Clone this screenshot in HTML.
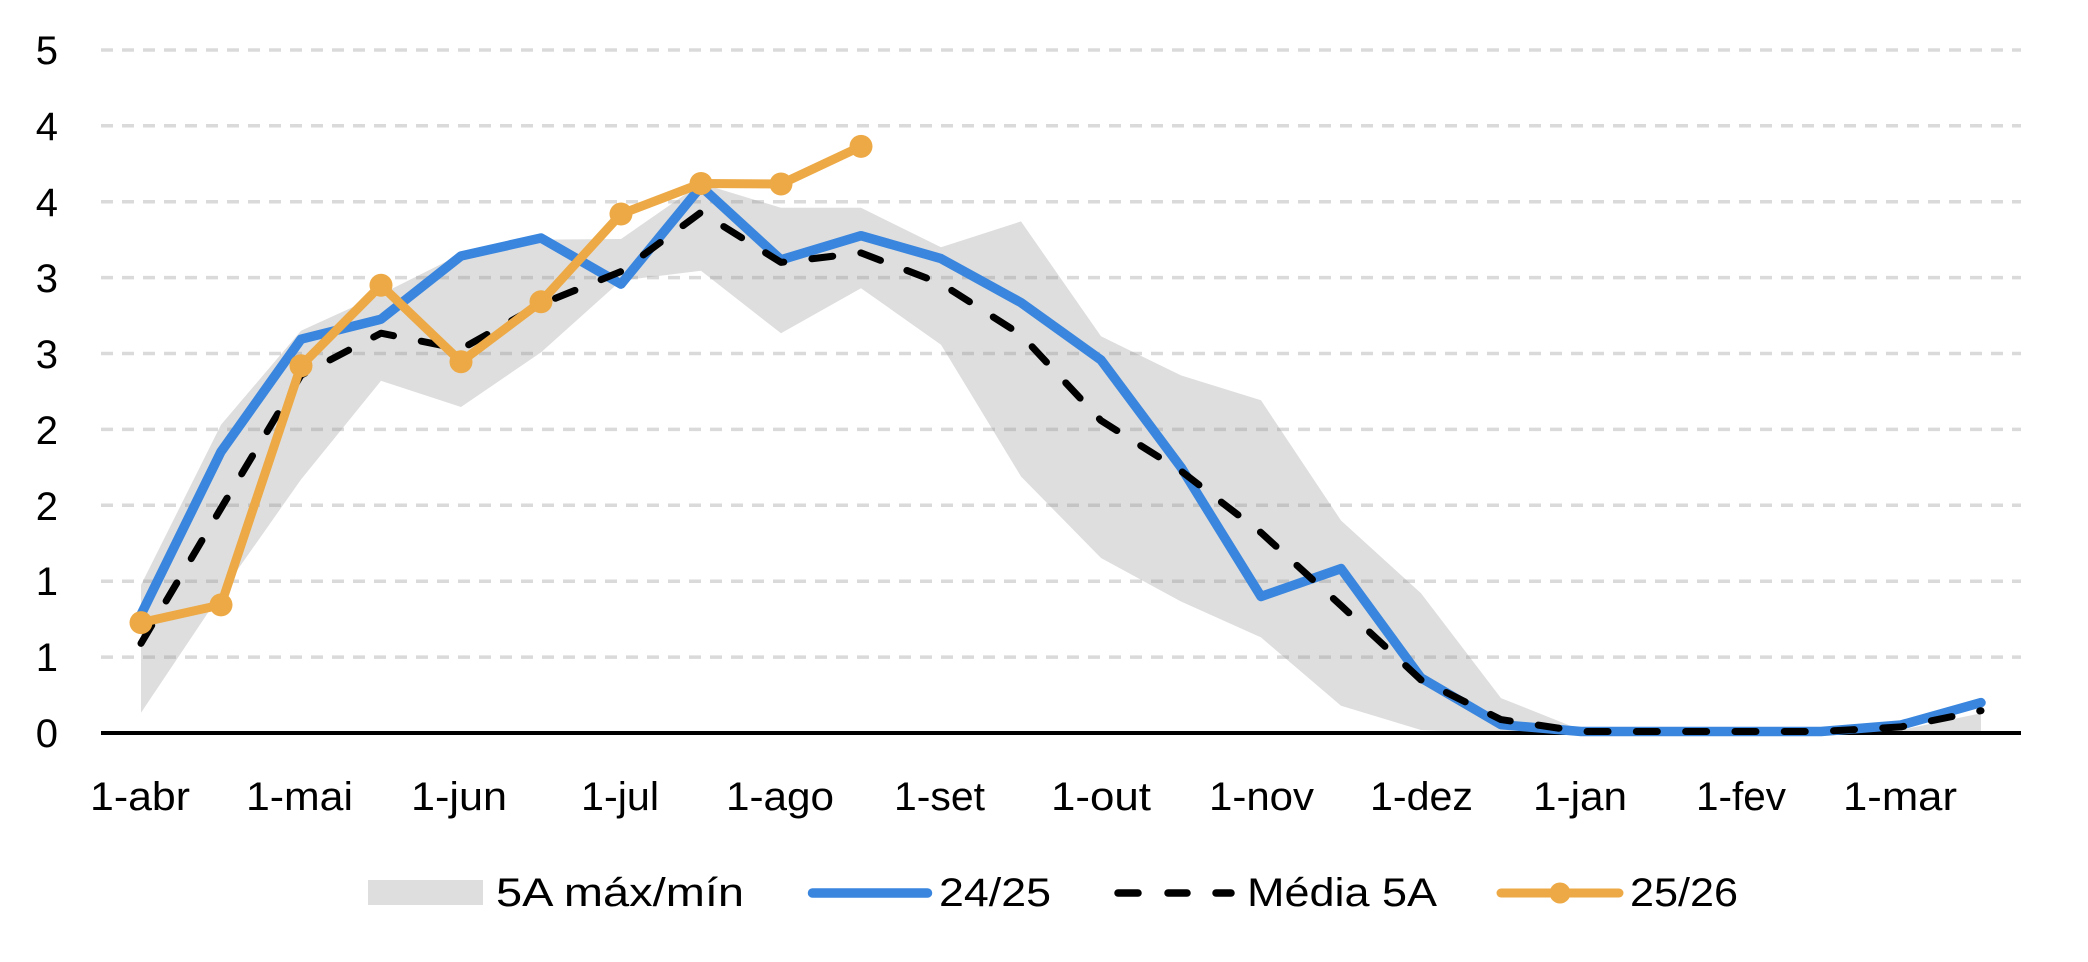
<!DOCTYPE html>
<html>
<head>
<meta charset="utf-8">
<style>
  html,body{margin:0;padding:0;background:#fff;}
  body{width:2088px;height:962px;overflow:hidden;}
  svg{display:block;}
  text{font-family:"Liberation Sans", sans-serif;fill:#000;font-size:40px;}
</style>
</head>
<body>
<svg width="2088" height="962" viewBox="0 0 2088 962" xmlns="http://www.w3.org/2000/svg">
  <rect width="2088" height="962" fill="#fff"/>

  <!-- Max/min band -->
  <polygon fill="#dedede" points="
    141,585 221,424.8 301,330.7 381,294.3 461,254.1 541,239.6 621,239 701,183.5 781,207.8 861,207.8
    941,247.2 1021,221.4 1101,336.3 1181,375.4 1261,400.3 1341,520.5 1421,593.3 1501,698.1 1581,730
    1661,733 1741,733 1821,733 1901,730 1981,713.3
    1981,733 1901,733 1821,733 1741,733 1661,733 1581,733 1501,733 1421,730 1341,705.7 1261,637.4
    1181,601.5 1101,558 1021,476.5 941,344.7 861,288.2 781,333.3 701,270.8 621,280.6 541,352.4
    461,407 381,380.8 301,479.5 221,593.3 141,712.7"/>

  <!-- Gridlines -->
  <g stroke="rgba(150,150,150,0.35)" stroke-width="3.5" stroke-dasharray="12 9">
    <line x1="101" y1="50" x2="2021" y2="50"/>
    <line x1="101" y1="125.8" x2="2021" y2="125.8"/>
    <line x1="101" y1="201.7" x2="2021" y2="201.7"/>
    <line x1="101" y1="277.6" x2="2021" y2="277.6"/>
    <line x1="101" y1="353.5" x2="2021" y2="353.5"/>
    <line x1="101" y1="429.4" x2="2021" y2="429.4"/>
    <line x1="101" y1="505.3" x2="2021" y2="505.3"/>
    <line x1="101" y1="581.2" x2="2021" y2="581.2"/>
    <line x1="101" y1="657.1" x2="2021" y2="657.1"/>
  </g>

  <!-- Axis -->
  <line x1="101" y1="733" x2="2021" y2="733" stroke="#000" stroke-width="4"/>

  <!-- Y labels -->
  <g text-anchor="end">
    <text x="58" y="64">5</text>
    <text x="58" y="140">4</text>
    <text x="58" y="216">4</text>
    <text x="58" y="292">3</text>
    <text x="58" y="368">3</text>
    <text x="58" y="444">2</text>
    <text x="58" y="520">2</text>
    <text x="58" y="595">1</text>
    <text x="58" y="671">1</text>
    <text x="58" y="747">0</text>
  </g>

  <!-- X labels -->
  <g>
    <text x="90" y="810" textLength="100" lengthAdjust="spacingAndGlyphs">1-abr</text>
    <text x="246" y="810" textLength="107" lengthAdjust="spacingAndGlyphs">1-mai</text>
    <text x="411" y="810" textLength="96" lengthAdjust="spacingAndGlyphs">1-jun</text>
    <text x="581" y="810" textLength="78" lengthAdjust="spacingAndGlyphs">1-jul</text>
    <text x="726" y="810" textLength="108" lengthAdjust="spacingAndGlyphs">1-ago</text>
    <text x="894" y="810" textLength="91" lengthAdjust="spacingAndGlyphs">1-set</text>
    <text x="1051" y="810" textLength="100" lengthAdjust="spacingAndGlyphs">1-out</text>
    <text x="1209" y="810" textLength="105" lengthAdjust="spacingAndGlyphs">1-nov</text>
    <text x="1370" y="810" textLength="103" lengthAdjust="spacingAndGlyphs">1-dez</text>
    <text x="1533" y="810" textLength="94" lengthAdjust="spacingAndGlyphs">1-jan</text>
    <text x="1696" y="810" textLength="90" lengthAdjust="spacingAndGlyphs">1-fev</text>
    <text x="1843" y="810" textLength="114" lengthAdjust="spacingAndGlyphs">1-mar</text>
  </g>

  <!-- 24/25 blue -->
  <polyline fill="none" stroke="#3a86de" stroke-width="9.5" stroke-linejoin="round" stroke-linecap="round" points="
    141,614.6 221,451.7 301,339.2 381,319.2 461,256 541,238 621,284.1 701,186.5 781,259.8 861,235.7
    941,258.6 1021,302.6 1101,360 1181,467.3 1261,596.5 1341,568.6 1421,677.9 1501,724.7 1581,731.5
    1661,731.5 1741,731.5 1821,731.5 1901,725 1981,702.6"/>

  <!-- Média 5A black dashed -->
  <polyline fill="none" stroke="#000" stroke-width="7" stroke-linejoin="round" stroke-linecap="round" stroke-dasharray="21 28.3" points="
    141,643.4 221,508.3 301,375.2 381,333.2 461,349.1 541,304.2 621,271.5 701,212.3 781,262.4 861,252.9
    941,283.5 1021,334.8 1101,420.6 1181,471 1261,532.6 1341,605.5 1421,679.9 1501,719.6 1581,731.5
    1661,731.5 1741,731.5 1821,731.5 1901,726.9 1981,710.7"/>

  <!-- 25/26 orange -->
  <g fill="#eda945" stroke="none">
    <polyline fill="none" stroke="#eda945" stroke-width="9" stroke-linejoin="round" stroke-linecap="round" points="
      141,622.6 221,604.9 301,365.8 381,285.2 461,361.8 541,301.7 621,214 701,183.5 781,184 861,146.4"/>
    <circle cx="141" cy="622.6" r="11.5"/>
    <circle cx="221" cy="604.9" r="11.5"/>
    <circle cx="301" cy="365.8" r="11.5"/>
    <circle cx="381" cy="285.2" r="11.5"/>
    <circle cx="461" cy="361.8" r="11.5"/>
    <circle cx="541" cy="301.7" r="11.5"/>
    <circle cx="621" cy="214" r="11.5"/>
    <circle cx="701" cy="183.5" r="11.5"/>
    <circle cx="781" cy="184" r="11.5"/>
    <circle cx="861" cy="146.4" r="11.5"/>
  </g>

  <!-- Legend -->
  <rect x="368" y="880" width="115" height="25" fill="#dedede"/>
  <text x="496" y="906" textLength="248" lengthAdjust="spacingAndGlyphs">5A máx/mín</text>

  <line x1="812.5" y1="893" x2="927.5" y2="893" stroke="#3a86de" stroke-width="9.5" stroke-linecap="round"/>
  <text x="939" y="906" textLength="112" lengthAdjust="spacingAndGlyphs">24/25</text>

  <g stroke="#000" stroke-width="7.5" stroke-linecap="round">
    <line x1="1118" y1="893" x2="1138" y2="893"/>
    <line x1="1168" y1="893" x2="1187" y2="893"/>
    <line x1="1216" y1="893" x2="1231" y2="893"/>
  </g>
  <text x="1247" y="906" textLength="190" lengthAdjust="spacingAndGlyphs">Média 5A</text>

  <line x1="1501" y1="893" x2="1619" y2="893" stroke="#eda945" stroke-width="9" stroke-linecap="round"/>
  <circle cx="1560" cy="893" r="10.5" fill="#eda945"/>
  <text x="1630" y="906" textLength="108" lengthAdjust="spacingAndGlyphs">25/26</text>
</svg>
</body>
</html>
